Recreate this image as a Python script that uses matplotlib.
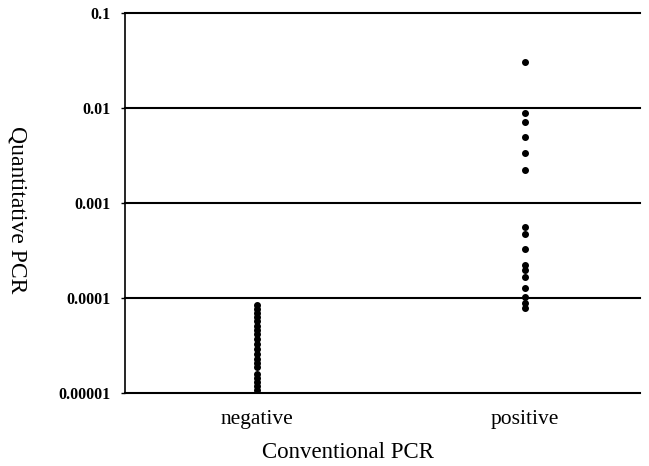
import matplotlib
matplotlib.use("Agg")
import matplotlib.pyplot as plt
from matplotlib.ticker import FixedLocator, NullLocator

# categories on the x axis
categories = ["negative", "positive"]

# quantitative PCR values
negative_values = [
    8.4e-5, 7.65e-5, 6.95e-5, 6.3e-5, 5.73e-5, 5.07e-5, 4.6e-5, 4.18e-5,
    3.7e-5, 3.28e-5, 2.9e-5, 2.57e-5, 2.28e-5, 2.07e-5, 1.88e-5,
    1.58e-5, 1.44e-5, 1.31e-5, 1.19e-5, 1.08e-5,
]
positive_values = [
    0.0307, 0.0088, 0.0072, 0.0050, 0.0034, 0.0022,
    0.000564, 0.000469, 0.000326, 0.000223, 0.000197, 0.000168,
    0.000126, 0.000102, 0.0000879, 0.000078,
]

y_ticks = [1e-5, 1e-4, 1e-3, 1e-2, 1e-1]
y_tick_labels = ["0.00001", "0.0001", "0.001", "0.01", "0.1"]

W, H = 649, 466
fig = plt.figure(figsize=(W / 100, H / 100), dpi=100)
ax = fig.add_axes([125 / W, 1 - 393 / H, (640 - 125) / W, (393 - 13) / H])

serif = ["Liberation Serif", "DejaVu Serif"]

# grid lines at each decade above the bottom
for value in y_ticks[1:]:
    ax.axhline(value, color="black", linewidth=1.5, zorder=1, clip_on=False)

ax.scatter([0] * len(negative_values), negative_values, s=16, color="black", zorder=3)
ax.scatter([1] * len(positive_values), positive_values, s=16, color="black", zorder=3)

ax.set_yscale("log")
ax.set_ylim(1e-5, 1e-1)
ax.set_xlim(-0.495, 1.43)

ax.yaxis.set_major_locator(FixedLocator(y_ticks))
ax.yaxis.set_minor_locator(NullLocator())
ax.set_yticklabels(y_tick_labels, fontfamily=serif, fontweight="bold", fontsize=11.5)
ax.tick_params(axis="y", length=3, width=1, pad=7, color="black")

ax.set_xticks([0, 1])
ax.set_xticklabels(categories, fontfamily=serif, fontsize=15.5)
ax.tick_params(axis="x", length=0, pad=12)

for side in ["top", "right"]:
    ax.spines[side].set_visible(False)
ax.spines["left"].set_linewidth(1.2)
ax.spines["bottom"].set_linewidth(1.5)

fig.text(348 / W, 1 - 453 / H, "Conventional PCR", fontfamily=serif, fontsize=16.5,
         ha="center", va="center")
fig.text(17 / W, 1 - 210 / H, "Quantitative PCR", fontfamily=serif, fontsize=17,
         ha="center", va="center", rotation=270)

fig.savefig("out.png", dpi=100)
